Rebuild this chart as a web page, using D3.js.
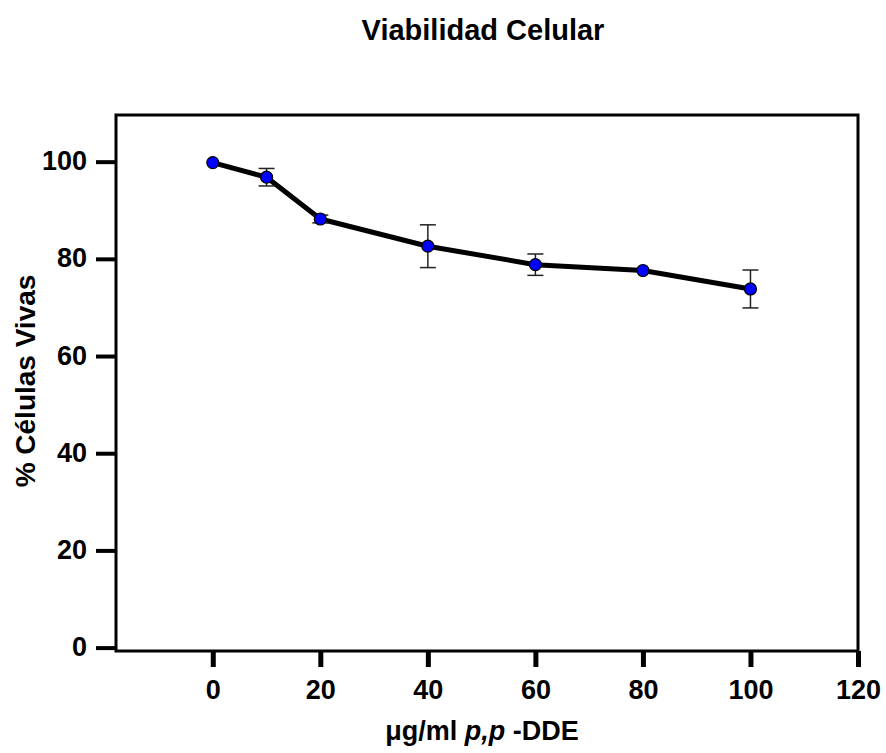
<!DOCTYPE html>
<html>
<head>
<meta charset="utf-8">
<script src="https://cdn.jsdelivr.net/npm/d3@7"></script>
<style>
  body { margin: 0; background: #fff; }
  text { font-family: "Liberation Sans", Arial, sans-serif; font-weight: bold; }
</style>
</head>
<body>
<div id="container"></div>
<script>
var width = 886;
var height = 753;
var margin = {left: 116, right: 28, top: 115, bottom: 102};

// data
var doses = [0, 10, 20, 40, 60, 80, 100];
var viability = [99.8, 96.8, 88.2, 82.6, 78.8, 77.6, 73.8];
var errors = [0, 1.8, 0.8, 4.4, 2.2, 0, 3.9];
var xTicks = [0, 20, 40, 60, 80, 100, 120];
var yTicks = [0, 20, 40, 60, 80, 100];

var data = doses.map(function(d, i){
    return {dose: d, value: viability[i], err: errors[i]};
});

var svg = d3.select('#container').append('svg').attr('width', width).attr('height', height);

var xScale = d3.scaleLinear().domain([-18, 120]).range([margin.left, width - margin.right]);
var yScale = d3.scaleLinear().domain([-0.7, 109.6]).range([height - margin.bottom, margin.top]);

// frame
svg.append('rect')
    .attr('x', xScale(-18)).attr('y', yScale(109.6))
    .attr('width', xScale(120) - xScale(-18))
    .attr('height', yScale(-0.7) - yScale(109.6))
    .attr('fill', 'none').attr('stroke', '#000').attr('stroke-width', 3);

// x axis
var xAxis = svg.append('g')
    .attr('transform', 'translate(0,' + yScale(-0.7) + ')')
    .call(d3.axisBottom(xScale).tickValues(xTicks).tickSize(16).tickPadding(13));
xAxis.select('.domain').remove();
xAxis.selectAll('line').attr('stroke-width', 5);
xAxis.selectAll('text').attr('font-size', 27).attr('fill', '#000')
    .style('font-family', '"Liberation Sans", Arial, sans-serif').style('font-weight', 'bold');

// y axis
var yAxis = svg.append('g')
    .attr('transform', 'translate(' + xScale(-18) + ',0)')
    .call(d3.axisLeft(yScale).tickValues(yTicks).tickSize(20).tickPadding(9));
yAxis.select('.domain').remove();
yAxis.selectAll('line').attr('stroke-width', 4);
yAxis.selectAll('text').attr('font-size', 27).attr('fill', '#000').attr('dy', '0.3em')
    .style('font-family', '"Liberation Sans", Arial, sans-serif').style('font-weight', 'bold');

// line
var line = d3.line()
    .x(function(d){ return xScale(d.dose); })
    .y(function(d){ return yScale(d.value); });

svg.append('path')
    .datum(data)
    .attr('d', line)
    .attr('fill', 'none')
    .attr('stroke', '#000')
    .attr('stroke-width', 5)
    .attr('stroke-linejoin', 'round');

// error bars
var bars = svg.append('g').selectAll('g')
    .data(data.filter(function(d){ return d.err > 0; }))
    .enter().append('g')
    .attr('stroke', '#222').attr('stroke-width', 1.5);

bars.append('line')
    .attr('x1', function(d){ return xScale(d.dose); })
    .attr('x2', function(d){ return xScale(d.dose); })
    .attr('y1', function(d){ return yScale(d.value + d.err); })
    .attr('y2', function(d){ return yScale(d.value - d.err); });
bars.append('line')
    .attr('x1', function(d){ return xScale(d.dose) - 8; })
    .attr('x2', function(d){ return xScale(d.dose) + 8; })
    .attr('y1', function(d){ return yScale(d.value + d.err); })
    .attr('y2', function(d){ return yScale(d.value + d.err); });
bars.append('line')
    .attr('x1', function(d){ return xScale(d.dose) - 8; })
    .attr('x2', function(d){ return xScale(d.dose) + 8; })
    .attr('y1', function(d){ return yScale(d.value - d.err); })
    .attr('y2', function(d){ return yScale(d.value - d.err); });

// points
svg.append('g').selectAll('circle')
    .data(data)
    .enter().append('circle')
    .attr('cx', function(d){ return xScale(d.dose); })
    .attr('cy', function(d){ return yScale(d.value); })
    .attr('r', 6)
    .attr('fill', '#0000ff')
    .attr('stroke', '#000')
    .attr('stroke-width', 1.2);

// title
svg.append('text')
    .attr('x', 483).attr('y', 40)
    .attr('text-anchor', 'middle')
    .attr('font-size', 29)
    .text('Viabilidad Celular');

// x label
var xLabel = svg.append('text')
    .attr('x', 482).attr('y', 740)
    .attr('text-anchor', 'middle')
    .attr('font-size', 27);
xLabel.append('tspan').text('\u03bcg/ml ');
xLabel.append('tspan').attr('font-style', 'italic').text('p,p');
xLabel.append('tspan').text(' -DDE');

// y label
svg.append('text')
    .attr('transform', 'translate(35,' + 381 + ') rotate(-90)')
    .attr('text-anchor', 'middle')
    .attr('font-size', 28)
    .text('% C\u00e9lulas Vivas');
</script>
</body>
</html>
